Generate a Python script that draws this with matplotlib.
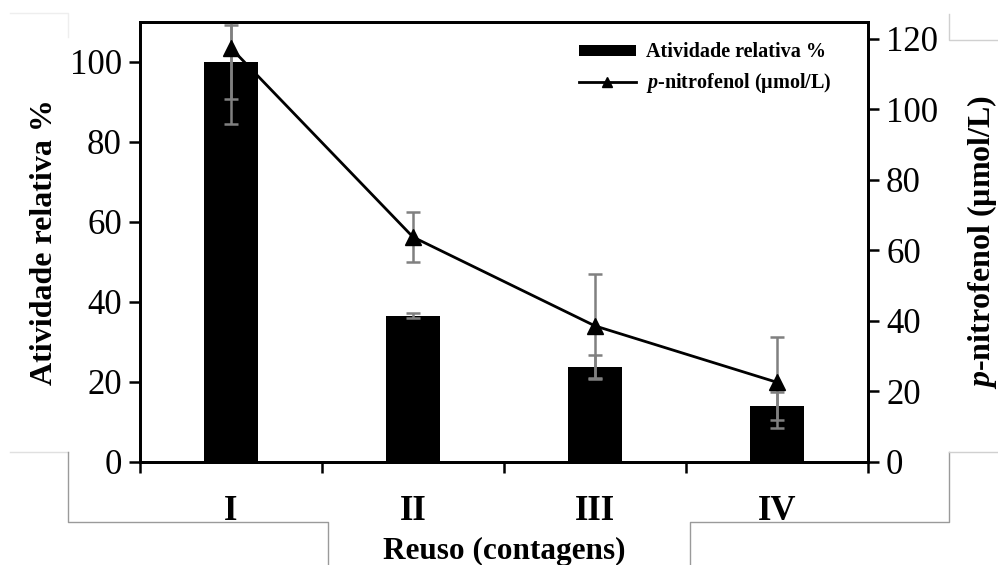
import matplotlib
matplotlib.use('Agg')
import matplotlib.pyplot as plt
from matplotlib.lines import Line2D
import numpy as np

plt.rcParams['font.family'] = ['Liberation Serif', 'DejaVu Serif']
plt.rcParams['mathtext.fontset'] = 'custom'
plt.rcParams['mathtext.it'] = 'Liberation Serif:italic:bold'
plt.rcParams['mathtext.rm'] = 'Liberation Serif:bold'

categories = ['I', 'II', 'III', 'IV']
atividade = [100.0, 36.6, 23.8, 14.0]
atividade_err = [9.3, 0.6, 3.0, 3.5]
nitrofenol = [117.4, 63.8, 38.6, 22.6]
nitrofenol_err = [21.6, 7.1, 14.8, 12.9]

W, H = 998, 565
fig = plt.figure(figsize=(W / 100, H / 100), dpi=100)
ax = fig.add_axes([140 / W, 1 - 462 / H, (868 - 140) / W, (462 - 22) / H])
ax2 = ax.twinx()

x = np.arange(len(categories))
gray = '#808080'

ax.bar(x, atividade, width=0.3, color='black', zorder=2,
       label='Atividade relativa %')
ax.errorbar(x, atividade, yerr=atividade_err, fmt='none', ecolor=gray,
            elinewidth=1.8, capsize=5, capthick=1.8, zorder=3)

ax2.errorbar(x, nitrofenol, yerr=nitrofenol_err, fmt='none', ecolor=gray,
             elinewidth=1.8, capsize=5, capthick=1.8, zorder=2)
ax2.plot(x, nitrofenol, color='black', lw=2, marker='^', markersize=12,
         zorder=3, label='$\\mathit{p}$-nitrofenol (µmol/L)')

ax.set_xlim(-0.5, len(categories) - 0.5)
ax.set_ylim(0, 110)
ax2.set_ylim(0, 124.8)
ax.set_yticks(np.arange(0, 101, 20))
ax2.set_yticks(np.arange(0, 121, 20))

# category boundaries as major ticks, labels on minor ticks at centers
ax.set_xticks(np.arange(len(categories) + 1) - 0.5)
ax.set_xticklabels([])
ax.set_xticks(x, minor=True)
ax.set_xticklabels(categories, minor=True, fontsize=25, fontweight='bold')
ax.tick_params(axis='x', which='major', direction='out', length=8, width=1.8)
ax.tick_params(axis='x', which='minor', length=0, pad=24)

ax.tick_params(axis='y', direction='out', length=8, width=1.8,
               labelsize=25, pad=5)
ax2.tick_params(axis='y', direction='out', length=8, width=1.8,
                labelsize=25, pad=5)

for a in (ax, ax2):
    for s in a.spines.values():
        s.set_linewidth(2)

ax.set_ylabel('Atividade relativa %', fontsize=23, fontweight='bold',
              labelpad=8)
ax2.set_ylabel('$\\mathit{p}$-nitrofenol (µmol/L)', fontsize=23,
               fontweight='bold', labelpad=19)
ax.set_xlabel('Reuso (contagens)', fontsize=22.5, fontweight='bold',
              labelpad=6)

h1, l1 = ax.get_legend_handles_labels()
h2, l2 = ax2.get_legend_handles_labels()
leg = ax2.legend(h1 + h2, l1 + l2, loc='upper right',
                 bbox_to_anchor=(0.975, 0.995), frameon=False,
                 prop={'size': 14.5, 'weight': 'bold'},
                 handlelength=2.85, handleheight=0.45, handletextpad=0.5,
                 labelspacing=0.45, markerscale=0.6)

# faint frame lines from the source document
def frame_line(xs, ys, color):
    fig.add_artist(Line2D([v / W for v in xs], [1 - v / H for v in ys],
                          transform=fig.transFigure, color=color, lw=1))

frame_line([10, 68, 68], [13, 13, 37], '#eeeeee')
frame_line([949, 949, 998], [14, 40, 40], '#d0d0d0')
frame_line([10, 68], [452, 452], '#e0e0e0')
frame_line([68, 68, 328, 328], [452, 522, 522, 565], '#9a9a9a')
frame_line([690, 690, 949, 949], [565, 522, 522, 452], '#9a9a9a')
frame_line([949, 998], [452, 452], '#d0d0d0')

fig.savefig('out.png', dpi=100)
